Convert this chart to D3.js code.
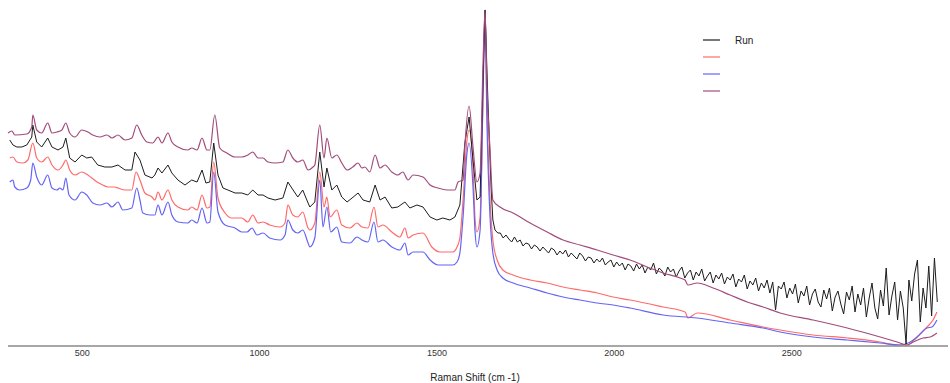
<!DOCTYPE html>
<html>
<head>
<meta charset="utf-8">
<script src="https://cdn.jsdelivr.net/npm/d3@7"></script>
<style>
  body { margin: 0; background: #fff; }
  svg { display: block; font-family: "Liberation Sans", Arial, sans-serif; }
</style>
</head>
<body>
<div id="chart"></div>
<script>
// Raman shift (cm-1), intensity (arb. units) pairs
const purpleSeries = [
  [292,213],[303,215],[311,211],[345,212],[359,219],[362,231],[373,216],[387,213],[404,223],[416,213],
  [430,214],[444,216],[455,223],[466,213],[481,209],[500,216],[517,214],[531,211],[551,209],[571,211],
  [585,208],[602,211],[622,206],[641,208],[655,221],[669,211],[684,204],[700,203],[715,209],[726,203],
  [743,213],[754,204],[771,199],[799,196],[810,198],[825,196],[839,208],[853,196],[861,196],[875,231],
  [889,198],[909,193],[932,189],[951,189],[968,191],[982,194],[997,188],[1011,188],[1025,184],[1045,183],
  [1067,184],[1081,196],[1095,188],[1109,184],[1123,186],[1138,176],[1152,179],[1157,181],[1171,221],[1183,188],
  [1191,208],[1205,188],[1219,191],[1233,183],[1248,176],[1264,179],[1279,183],[1290,178],[1298,179],[1312,174],
  [1327,191],[1341,178],[1355,181],[1374,174],[1391,171],[1405,174],[1420,166],[1434,171],[1462,169],[1482,161],
  [1504,158],[1530,156],[1552,156],[1561,164],[1575,166],[1580,199],[1592,240],[1603,199],[1614,164],[1623,173],
  [1631,279],[1637,336],[1642,263],[1651,196],[1659,146],[1679,139],[1716,133],[1764,123],[1812,114],[1857,106],
  [1905,101],[1953,96],[1998,91],[2046,86],[2094,79],[2139,73],[2187,68],[2201,66],[2209,61],[2235,63],
  [2280,58],[2328,51],[2376,44],[2421,39],[2469,33],[2562,26],[2658,18],[2751,9],[2799,4],[2827,1],
  [2844,4],[2872,8],[2892,9],[2911,13]
];

const blackSeries = [
  [297,206],[306,201],[317,199],[331,199],[345,201],[359,209],[362,221],[373,204],[387,199],[404,208],
  [416,199],[433,196],[447,199],[455,208],[466,188],[481,184],[500,191],[514,188],[528,189],[545,181],
  [565,179],[585,179],[602,181],[622,176],[641,176],[650,194],[664,186],[678,171],[698,168],[706,171],
  [715,178],[726,173],[743,181],[754,173],[771,166],[791,161],[810,166],[825,164],[839,176],[850,163],
  [861,164],[872,203],[884,171],[898,158],[912,156],[932,153],[951,153],[968,151],[982,156],[997,151],
  [1011,151],[1025,148],[1045,146],[1067,148],[1081,164],[1092,158],[1109,149],[1123,156],[1138,143],[1143,139],
  [1157,144],[1171,194],[1183,159],[1191,178],[1205,156],[1219,161],[1233,149],[1248,144],[1262,148],[1279,153],
  [1293,146],[1312,144],[1327,161],[1341,146],[1355,149],[1374,138],[1391,139],[1411,144],[1425,138],[1445,141],
  [1462,139],[1482,129],[1501,126],[1518,128],[1538,126],[1552,129],[1566,141],[1580,203],[1592,229],[1603,186],
  [1614,146],[1623,149],[1631,263],[1637,336],[1645,246],[1654,159],[1659,126],[1665,116],[1673,113],
  [1680,113],[1688,108],[1696,111],[1704,107],[1712,104],[1720,109],[1728,104],[1736,106],[1744,100],[1752,103],
  [1760,102],[1768,97],[1776,101],[1784,99],[1792,95],[1800,99],[1808,96],[1816,93],[1824,98],[1832,96],
  [1840,91],[1848,95],[1856,92],[1864,96],[1872,89],[1880,93],[1888,90],[1896,87],[1904,93],[1912,90],
  [1920,85],[1928,89],[1936,88],[1944,83],[1952,87],[1960,84],[1968,88],[1976,81],[1984,84],[1992,86],
  [2000,79],[2008,84],[2016,80],[2024,83],[2032,76],[2040,82],[2048,80],[2056,75],[2064,82],[2072,77],
  [2080,81],[2088,73],[2096,79],[2104,76],[2112,83],[2120,72],[2128,78],[2136,75],[2144,70],[2152,79],
  [2160,74],[2168,77],[2176,69],[2184,75],[2192,79],[2200,68],[2208,73],[2216,76],[2224,66],[2232,74],
  [2240,70],[2248,77],[2256,65],[2264,70],[2272,74],[2280,63],[2288,71],[2296,67],[2304,73],[2312,62],
  [2320,69],[2328,66],[2336,72],[2344,59],[2352,67],[2360,64],[2368,71],[2376,57],[2384,65],[2392,61],
  [2400,68],[2408,55],[2416,63],[2424,58],[2432,66],[2440,53],[2448,64],[2456,36],[2464,60],[2472,57],
  [2480,64],[2488,48],[2496,58],[2504,52],[2512,62],[2520,43],[2528,55],[2536,50],[2544,60],[2552,41],
  [2560,52],[2568,57],[2576,44],[2584,39],[2592,56],[2600,47],[2608,58],[2616,35],[2624,49],[2632,55],
  [2640,42],[2648,32],[2656,54],[2664,46],[2672,60],[2680,34],[2688,52],[2696,41],[2704,58],[2712,29],
  [2720,48],[2728,63],[2736,38],[2744,27],[2752,56],[2760,40],[2768,78],[2776,31],[2784,50],[2792,64],
  [2800,26],[2808,55],[2816,38],[2824,2],[2832,66],[2840,45],[2848,72],[2856,86],[2864,24],[2872,58],
  [2880,38],[2888,80],[2896,30],[2904,88],[2912,44]
];

const redSeries = [
  [297,188],[306,189],[317,184],[334,183],[348,186],[362,203],[373,188],[387,184],[404,189],[416,181],
  [433,176],[447,181],[455,186],[466,176],[481,171],[500,174],[517,171],[543,164],[559,161],[574,159],
  [593,159],[602,158],[622,156],[641,156],[653,174],[664,166],[678,153],[698,149],[706,146],[715,154],
  [726,146],[743,156],[754,146],[771,139],[799,136],[810,139],[825,136],[839,151],[853,138],[861,139],
  [872,184],[884,148],[904,133],[923,128],[951,128],[968,124],[982,131],[997,123],[1011,124],[1030,121],
  [1059,119],[1073,123],[1081,141],[1095,131],[1109,129],[1123,134],[1138,118],[1143,116],[1157,123],[1171,174],
  [1183,139],[1191,149],[1200,129],[1219,136],[1233,121],[1256,118],[1276,123],[1290,119],[1307,118],[1324,139],
  [1335,119],[1349,121],[1374,114],[1397,109],[1411,118],[1420,108],[1434,111],[1462,113],[1487,99],[1510,94],
  [1546,94],[1558,99],[1566,108],[1575,146],[1586,206],[1592,216],[1603,179],[1609,126],[1614,114],[1623,129],
  [1631,246],[1637,336],[1642,246],[1651,146],[1659,106],[1671,86],[1687,76],[1716,71],[1764,66],[1812,63],
  [1857,59],[1905,56],[1953,53],[1998,49],[2046,46],[2139,39],[2201,34],[2209,28],[2235,33],[2328,26],
  [2421,19],[2469,16],[2562,11],[2658,8],[2751,4],[2799,1],[2827,1],[2855,9],[2883,19],[2900,26],[2911,34]
];

const blueSeries = [
  [297,164],[306,166],[311,159],[325,156],[345,158],[356,166],[362,183],[373,169],[387,161],[404,171],
  [416,158],[430,156],[438,158],[447,156],[455,168],[464,151],[481,146],[500,154],[514,151],[531,143],
  [551,141],[571,143],[585,139],[602,144],[616,136],[641,138],[655,158],[664,146],[672,133],[692,131],
  [706,131],[715,141],[726,131],[743,144],[754,131],[771,124],[799,123],[810,126],[825,123],[839,138],
  [853,123],[861,124],[872,174],[884,134],[904,121],[932,118],[951,114],[966,114],[980,118],[994,111],
  [1011,113],[1030,108],[1059,106],[1073,111],[1081,126],[1095,116],[1109,113],[1123,116],[1138,103],[1143,99],
  [1157,108],[1171,166],[1180,119],[1191,139],[1202,114],[1219,119],[1233,104],[1256,103],[1276,109],[1290,106],
  [1307,104],[1324,124],[1335,104],[1349,106],[1374,99],[1397,96],[1411,103],[1420,91],[1434,94],[1462,94],
  [1482,86],[1504,81],[1546,81],[1558,84],[1566,93],[1575,129],[1586,193],[1592,203],[1603,159],[1609,113],
  [1614,99],[1623,116],[1631,246],[1637,336],[1642,229],[1651,129],[1659,93],[1671,76],[1687,68],[1716,63],
  [1764,58],[1812,53],[1857,49],[1905,46],[1953,43],[1998,41],[2046,38],[2139,31],[2235,28],[2328,23],
  [2421,18],[2469,14],[2562,9],[2658,6],[2751,3],[2807,1],[2830,3],[2855,9],[2883,18],[2897,19],[2911,26]
];

const tickLabels = [500, 1000, 1500, 2000, 2500];
const legendNames = ['Run', '', '', ''];

const width = 950;
const height = 383;
const plotLeft = 8, plotRight = 938, plotTop = 0, plotBottom = 346;

const svg = d3.select('#chart')
  .append('svg')
  .attr('width', width)
  .attr('height', height);

const xScale = d3.scaleLinear()
  .domain([292, 2914])
  .range([plotLeft, plotRight]);

const yScale = d3.scaleLinear()
  .domain([0, 346])
  .range([plotBottom, plotTop]);

// draw order: black stays under the purple trace at the big peak
const series = [
  { name: legendNames[1], color: '#ff6a6a', data: redSeries, smooth: true },
  { name: legendNames[2], color: '#6464f4', data: blueSeries, smooth: true },
  { name: legendNames[0], color: '#1c1c1c', data: blackSeries, smooth: false },
  { name: legendNames[3], color: '#a24c7c', data: purpleSeries, smooth: true }
];

const smoothLine = d3.line()
  .curve(d3.curveMonotoneX)
  .x(d => xScale(d[0]))
  .y(d => yScale(d[1]));

// the run trace is noisy, so keep straight segments
const rawLine = d3.line()
  .x(d => xScale(d[0]))
  .y(d => yScale(d[1]));

svg.append('g')
  .selectAll('path')
  .data(series)
  .join('path')
  .attr('d', d => (d.smooth ? smoothLine : rawLine)(d.data))
  .attr('fill', 'none')
  .attr('stroke', d => d.color)
  .attr('stroke-width', d => d.smooth ? 1.2 : 1)
  .attr('stroke-linejoin', 'round');

// x axis
const xAxis = svg.append('g')
  .attr('transform', 'translate(0,' + plotBottom + ')')
  .call(d3.axisBottom(xScale).tickValues(tickLabels).tickFormat(d3.format('d')).tickSize(0).tickPadding(4))
  .call(g => g.select('.domain').remove())
  .call(g => g.selectAll('.tick text')
    .attr('fill', '#333')
    .style('font-size', '9px')
    .style('font-family', '"Liberation Sans", Arial, sans-serif'));

xAxis.append('line')
  .attr('x1', plotLeft)
  .attr('x2', width - 2)
  .attr('y1', 0)
  .attr('y2', 0)
  .attr('stroke', '#8a8a8a')
  .attr('stroke-width', 1.5);

svg.append('text')
  .attr('x', 475)
  .attr('y', 381)
  .attr('text-anchor', 'middle')
  .attr('fill', '#222')
  .style('font-size', '10px')
  .text('Raman Shift (cm -1)');

// legend
const legendColors = ['#1c1c1c', '#ff6a6a', '#6464f4', '#a24c7c'];
const legend = svg.append('g')
  .attr('transform', 'translate(703,40)');

legendColors.forEach((c, i) => {
  const row = legend.append('g').attr('transform', 'translate(0,' + (i * 17) + ')');
  row.append('line')
    .attr('x1', 0).attr('x2', 17)
    .attr('y1', 0).attr('y2', 0)
    .attr('stroke', c)
    .attr('stroke-width', 1.2);
  row.append('text')
    .attr('x', 32)
    .attr('y', 4)
    .attr('fill', '#222')
    .style('font-size', '10px')
    .text(legendNames[i]);
});
</script>
</body>
</html>
